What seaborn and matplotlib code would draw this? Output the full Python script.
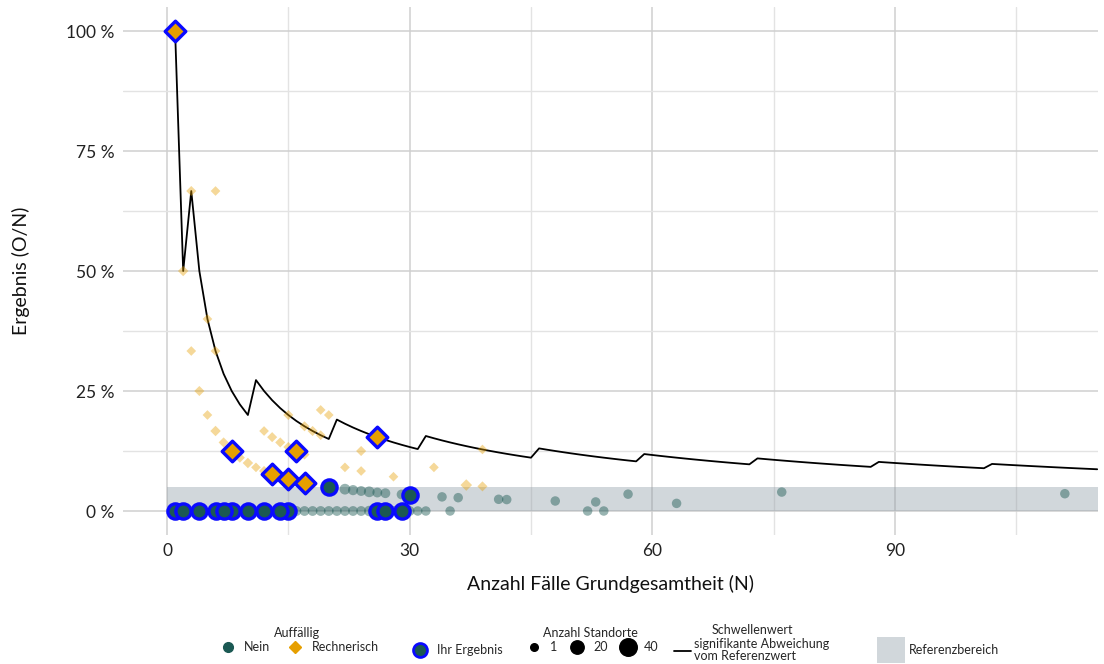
import numpy as np
import pandas as pd
import matplotlib
matplotlib.use("Agg")
import matplotlib.pyplot as plt
import seaborn as sns
from matplotlib.lines import Line2D
from matplotlib.patches import Patch
from matplotlib.ticker import FuncFormatter, FixedLocator

# ---------------- data ----------------
# Threshold line (Schwellenwert): critical count k for each N (line = k/N)
thr_n = list(range(1, 116))
thr_k = [1, 1, 2, 2, 2, 2, 2, 2, 2, 2,
         3, 3, 3, 3, 3, 3, 3, 3, 3, 3,
         4, 4, 4, 4, 4, 4, 4, 4, 4, 4, 4,
         5, 5, 5, 5, 5, 5, 5, 5, 5, 5, 5, 5, 5, 5,
         6, 6, 6, 6, 6, 6, 6, 6, 6, 6, 6, 6, 6,
         7, 7, 7, 7, 7, 7, 7, 7, 7, 7, 7, 7, 7, 7,
         8, 8, 8, 8, 8, 8, 8, 8, 8, 8, 8, 8, 8, 8, 8,
         9, 9, 9, 9, 9, 9, 9, 9, 9, 9, 9, 9, 9, 9,
         10, 10, 10, 10, 10, 10, 10, 10, 10, 10, 10, 10, 10, 10]

# Reference range (Referenzbereich) in %
ref_lo, ref_hi = 0, 5

# Other sites, Auffällig = Rechnerisch (N, O, Anzahl Standorte)
rech_n = [2, 3, 6, 3, 5, 6, 4, 5, 6, 7, 9, 10, 11, 12, 12, 13, 14, 15, 15, 17,
          18, 19, 19, 20, 17, 24, 22, 24, 28, 18, 33, 37, 39, 39]
rech_o = [1, 2, 4, 1, 2, 2, 1, 1, 1, 1, 1, 1, 1, 1, 2, 2, 2, 3, 2, 3,
          3, 3, 4, 4, 2, 3, 2, 2, 2, 1, 3, 2, 2, 5]
rech_s = [6, 5, 4, 4, 4, 4, 5, 4, 6, 5, 5, 6, 4, 5, 4, 5, 5, 5, 5, 5,
          5, 4, 4, 4, 5, 5, 4, 4, 4, 4, 4, 9, 5, 4]

# Other sites, Auffällig = Nein
nein_n = [16, 17, 18, 19, 20, 21, 22, 23, 24, 25, 28, 30, 31, 32, 35, 52, 54,
          22, 23, 24, 25, 26, 27, 29, 34, 36, 41, 42, 48, 53, 57, 63, 76, 111]
nein_o = [0, 0, 0, 0, 0, 0, 0, 0, 0, 0, 0, 0, 0, 0, 0, 0, 0,
          1, 1, 1, 1, 1, 1, 1, 1, 1, 1, 1, 1, 1, 2, 1, 3, 4]
nein_s = [7, 7, 7, 7, 7, 7, 7, 7, 7, 9, 7, 7, 6, 6, 6, 6, 6,
          10, 8, 7, 10, 7, 7, 7, 6, 6, 6, 6, 6, 6, 6, 6, 6, 6]

# Own results (Ihr Ergebnis), Rechnerisch
own_r_n = [1, 8, 13, 15, 16, 17, 26]
own_r_o = [1, 1, 1, 1, 2, 1, 4]

# Own results (Ihr Ergebnis), Nein
own_n_n = [1, 8, 15, 6, 2, 4, 7, 10, 12, 14, 26, 27, 29, 20, 30]
own_n_o = [0, 0, 0, 0, 0, 0, 0, 0, 0, 0, 0, 0, 0, 1, 1]

# Legend sizes (Anzahl Standorte)
legend_sizes = [1, 20, 40]

# ---------------- styling ----------------
TEAL = "#1b5953"
ORANGE = "#e69f00"
BLUE = "#0a0aff"
BAND = "#8e9ba5"
SIZES = (30, 160)
SNORM = (1, 40)

sns.set_theme(style="whitegrid")
plt.rcParams["font.family"] = ["Lato", "DejaVu Sans"]

fig = plt.figure(figsize=(11.04, 6.64), dpi=100)
ax = fig.add_axes([123 / 1104, 1 - 535 / 664, (1098 - 123) / 1104, (535 - 7) / 664])

thr = pd.DataFrame({"N": thr_n, "k": thr_k})
thr["pct"] = 100 * thr["k"] / thr["N"]
rech = pd.DataFrame({"N": rech_n, "O": rech_o, "S": rech_s})
rech["pct"] = 100 * rech["O"] / rech["N"]
nein = pd.DataFrame({"N": nein_n, "O": nein_o, "S": nein_s})
nein["pct"] = 100 * nein["O"] / nein["N"]
own_r = pd.DataFrame({"N": own_r_n, "O": own_r_o})
own_r["pct"] = 100 * own_r["O"] / own_r["N"]
own_n = pd.DataFrame({"N": own_n_n, "O": own_n_o})
own_n["pct"] = 100 * own_n["O"] / own_n["N"]

xmin, xmax = -5.44, 115.1

# reference band
ax.fill_between([0, xmax], ref_lo, ref_hi, color=BAND, alpha=0.4, lw=0, zorder=1)

# threshold line
sns.lineplot(data=thr, x="N", y="pct", color="black", lw=1.3, ax=ax, zorder=3)

# other sites
sns.scatterplot(data=nein, x="N", y="pct", size="S", sizes=SIZES, size_norm=SNORM,
                color=TEAL, alpha=0.45, edgecolor="none", marker="o",
                legend=False, ax=ax, zorder=4)
sns.scatterplot(data=rech, x="N", y="pct", size="S", sizes=(18, 100), size_norm=SNORM,
                color=ORANGE, alpha=0.4, edgecolor="none", marker="D",
                legend=False, ax=ax, zorder=4)

# own results
sns.scatterplot(data=own_n, x="N", y="pct", s=120, color=TEAL, edgecolor=BLUE,
                linewidth=2.4, marker="o", legend=False, ax=ax, zorder=5)
sns.scatterplot(data=own_r, x="N", y="pct", s=110, color=ORANGE, edgecolor=BLUE,
                linewidth=2.4, marker="D", legend=False, ax=ax, zorder=6)

# axes
ax.set_xlim(xmin, xmax)
ax.set_ylim(-5, 105)
ax.xaxis.set_major_locator(FixedLocator([0, 30, 60, 90]))
ax.xaxis.set_minor_locator(FixedLocator([15, 45, 75, 105]))
ax.yaxis.set_major_locator(FixedLocator([0, 25, 50, 75, 100]))
ax.yaxis.set_minor_locator(FixedLocator([12.5, 37.5, 62.5, 87.5]))
ax.yaxis.set_major_formatter(FuncFormatter(lambda v, p: f"{v:.0f} %"))
ax.grid(which="major", color="#cfcfcf", lw=1.1)
ax.grid(which="minor", color="#e3e3e3", lw=1.0)
ax.set_axisbelow(True)
for s in ax.spines.values():
    s.set_visible(False)
ax.set_facecolor("white")
ax.tick_params(axis="both", which="both", length=0, labelsize=12.5, colors="#222222", pad=6)
ax.set_xlabel("Anzahl Fälle Grundgesamtheit (N)", fontsize=14, color="#111111", labelpad=11)
ax.set_ylabel("Ergebnis (O/N)", fontsize=14, color="#111111", labelpad=26)

# ---------------- legends ----------------
lkw = dict(frameon=False, fontsize=9, title_fontsize=9, handletextpad=0.3,
           borderaxespad=0, borderpad=0, labelspacing=0.2)

h1 = [Line2D([], [], marker="o", ls="", color=TEAL, markersize=7),
      Line2D([], [], marker="D", ls="", color=ORANGE, markersize=6)]
fig.legend(h1, ["Nein", "Rechnerisch"], title="Auffällig", ncol=2, loc="center",
           bbox_to_anchor=(297 / 1104, 1 - 640 / 664), columnspacing=1.0, **lkw)

h2 = [Line2D([], [], marker="o", ls="", markerfacecolor=TEAL, markeredgecolor=BLUE,
             markeredgewidth=2, markersize=10)]
fig.legend(h2, ["Ihr Ergebnis"], loc="center",
           bbox_to_anchor=(455 / 1104, 1 - 650 / 664), **lkw)

def msize(v):
    area = SIZES[0] + (SIZES[1] - SIZES[0]) * (v - SNORM[0]) / (SNORM[1] - SNORM[0])
    return np.sqrt(area)

h3 = [Line2D([], [], marker="o", ls="", color="black", markersize=msize(v)) for v in legend_sizes]
fig.legend(h3, [str(v) for v in legend_sizes], title="Anzahl Standorte", ncol=3,
           loc="center", bbox_to_anchor=(590 / 1104, 1 - 640 / 664),
           columnspacing=0.6, **lkw)

h4 = [Line2D([], [], color="black", lw=1.3)]
lg4 = fig.legend(h4, ["signifikante Abweichung\nvom Referenzwert"], title="Schwellenwert",
                 loc="center", bbox_to_anchor=(752 / 1104, 1 - 643 / 664),
                 handlelength=1.3, **lkw)
for t in lg4.get_texts():
    t.set_linespacing(0.95)

h5 = [Patch(facecolor=BAND, alpha=0.4, edgecolor="none")]
fig.legend(h5, ["Referenzbereich"], loc="center",
           bbox_to_anchor=(938 / 1104, 1 - 650 / 664), handlelength=2.2,
           handleheight=2.8, **lkw)

fig.savefig("out.png", dpi=100)
